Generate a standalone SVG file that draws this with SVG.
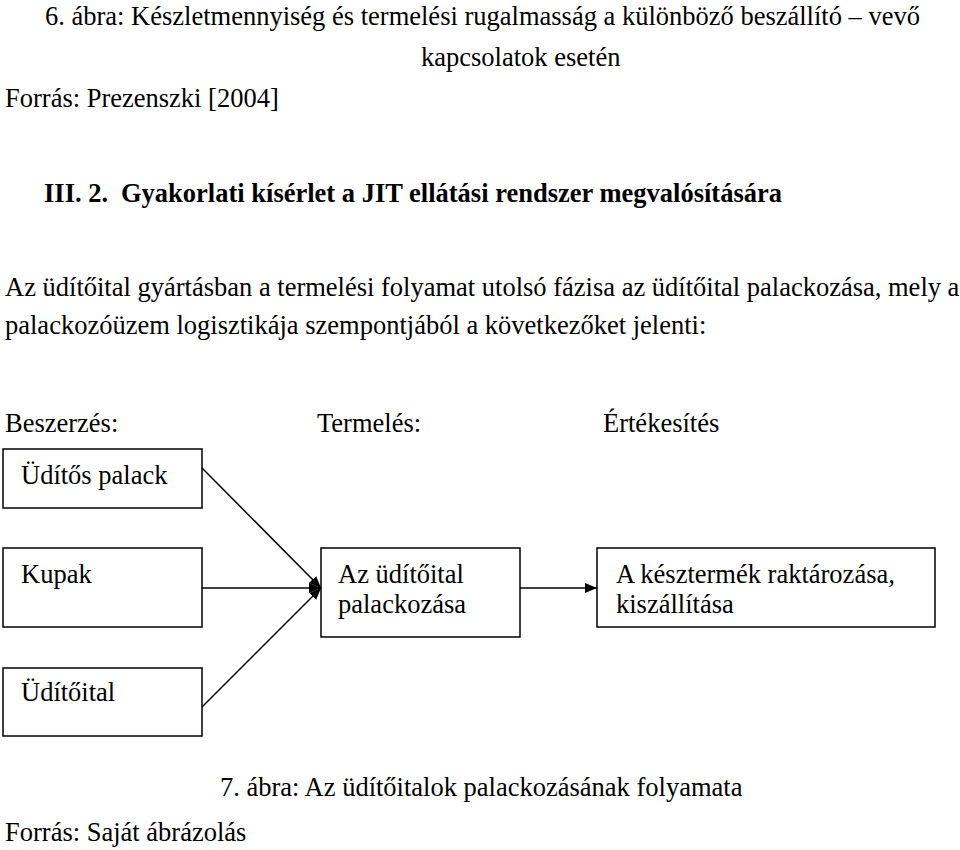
<svg xmlns="http://www.w3.org/2000/svg" width="960" height="850" viewBox="0 0 960 850" font-family="'Liberation Serif', 'Times New Roman', 'DejaVu Serif', serif" font-size="26.5">
<defs>
<style>
text{font-family:'Liberation Serif','Times New Roman','DejaVu Serif',serif;font-size:26.5px;fill:#000}
.b{font-weight:bold}
.box{fill:#fff;stroke:#000;stroke-width:1.5}
.ln{stroke:#000;stroke-width:1.5;fill:none}
</style>
<marker id="ah" markerWidth="12" markerHeight="10" refX="12" refY="5" orient="auto" markerUnits="userSpaceOnUse">
<path d="M0,0 L12,5 L0,10 Z" fill="#000"/>
</marker>
</defs>
<rect width="960" height="850" fill="#fff"/>
<text x="45" y="25">6. ábra: Készletmennyiség és termelési rugalmasság a különböző beszállító – vevő</text>
<text x="421" y="66">kapcsolatok esetén</text>
<text x="5" y="107">Forrás: Prezenszki [2004]</text>
<text x="44" y="202" class="b">III. 2.<tspan x="121">Gyakorlati kísérlet a JIT ellátási rendszer megvalósítására</tspan></text>
<text x="5" y="296">Az üdítőital gyártásban a termelési folyamat utolsó fázisa az üdítőital palackozása, mely a</text>
<text x="5" y="334">palackozóüzem logisztikája szempontjából a következőket jelenti:</text>
<text x="5" y="432">Beszerzés:</text>
<text x="317" y="432">Termelés:</text>
<text x="603" y="432">Értékesítés</text>
<g id="n1"><rect class="box" x="3" y="449" width="199" height="59"/><text x="21" y="484">Üdítős palack</text></g>
<g id="n2"><rect class="box" x="3" y="548" width="199" height="79"/><text x="21" y="583">Kupak</text></g>
<g id="n3"><rect class="box" x="3" y="668" width="199" height="68"/><text x="21" y="701">Üdítőital</text></g>
<g id="n4"><rect class="box" x="321" y="548" width="199" height="89"/><text x="338" y="583">Az üdítőital</text><text x="338" y="613">palackozása</text></g>
<g id="n5"><rect class="box" x="597" y="548" width="338" height="79"/><text x="616" y="583">A késztermék raktározása,</text><text x="616" y="613">kiszállítása</text></g>
<g id="connectors">
<line class="ln" x1="202" y1="468" x2="321" y2="588" marker-end="url(#ah)"/>
<line class="ln" x1="202" y1="588" x2="321" y2="588" marker-end="url(#ah)"/>
<line class="ln" x1="202" y1="707" x2="321" y2="588" marker-end="url(#ah)"/>
<line class="ln" x1="520" y1="588" x2="597" y2="588" marker-end="url(#ah)"/>
</g>
<text x="220" y="796">7. ábra: Az üdítőitalok palackozásának folyamata</text>
<text x="5" y="841">Forrás: Saját ábrázolás</text>
</svg>
